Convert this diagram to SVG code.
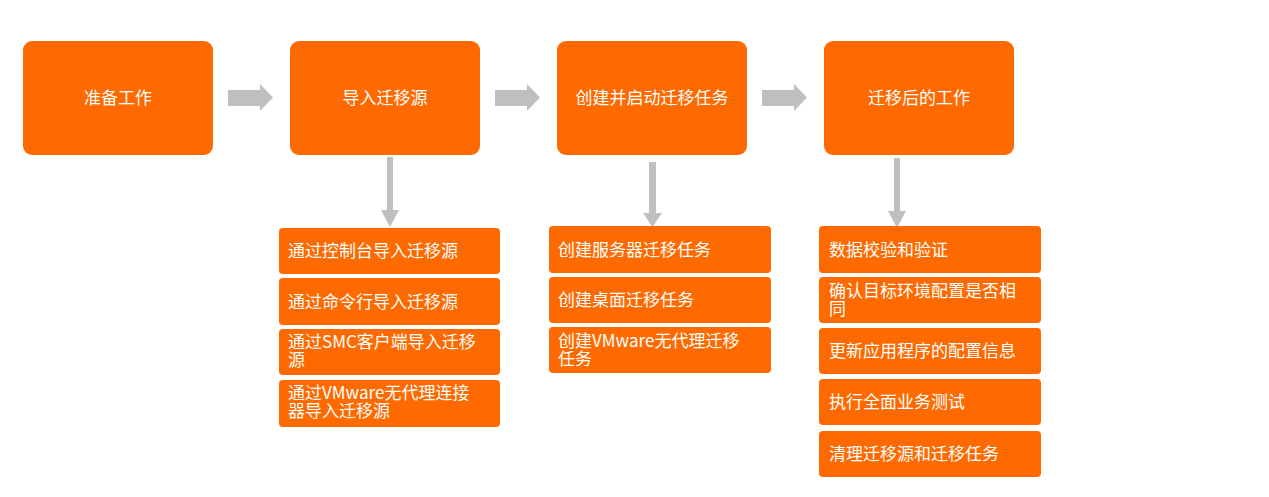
<svg xmlns="http://www.w3.org/2000/svg" width="1269" height="497" viewBox="0 0 1269 497">
<style>
.main{fill:#FF6A00}
.sub{fill:#FF6A00}
.t{font-family:"Noto Sans CJK SC","Noto Sans",sans-serif;font-size:17px;fill:#FFFFFF}
.c{text-anchor:middle}
.arr{fill:#BFBFBF}
</style>
<rect width="1269" height="497" fill="#FFFFFF"/>
<g id="connectors">
<polygon class="arr" points="228,90 260,90 260,84 273,97.5 260,111 260,106 228,106"/>
<polygon class="arr" points="495,90 527,90 527,84 540,97.5 527,111 527,106 495,106"/>
<polygon class="arr" points="762,90 794,90 794,84 807,97.5 794,111 794,106 762,106"/>
<polygon class="arr" points="387,157 393,157 393,210 399,210 390,227 381,210 387,210"/>
<polygon class="arr" points="649,162 656,162 656,213 662,213 652.5,227 643,213 649,213"/>
<polygon class="arr" points="894,158 900,158 900,211 906,211 897,228 888,211 894,211"/>
</g>
<g id="n1"><rect class="main" x="23" y="41" width="190" height="114" rx="9"/><text class="t c" x="118" y="104">准备工作</text></g>
<g id="n2"><rect class="main" x="290" y="41" width="190" height="114" rx="9"/><text class="t c" x="385" y="104">导入迁移源</text></g>
<g id="n3"><rect class="main" x="557" y="41" width="190" height="114" rx="9"/><text class="t c" x="652" y="104">创建并启动迁移任务</text></g>
<g id="n4"><rect class="main" x="824" y="41" width="190" height="114" rx="9"/><text class="t c" x="919" y="104">迁移后的工作</text></g>

<g id="s2a"><rect class="sub" x="279" y="228" width="221" height="46" rx="4"/><text class="t" x="288" y="257">通过控制台导入迁移源</text></g>
<g id="s2b"><rect class="sub" x="279" y="278" width="221" height="47" rx="4"/><text class="t" x="288" y="308">通过命令行导入迁移源</text></g>
<g id="s2c"><rect class="sub" x="279" y="329" width="221" height="46" rx="4"/><text class="t" x="288" y="348">通过SMC客户端导入迁移<tspan x="288" dy="18">源</tspan></text></g>
<g id="s2d"><rect class="sub" x="279" y="380" width="221" height="47" rx="4"/><text class="t" x="288" y="399">通过VMware无代理连接<tspan x="288" dy="18">器导入迁移源</tspan></text></g>

<g id="s3a"><rect class="sub" x="549" y="226" width="222" height="47" rx="4"/><text class="t" x="558" y="256">创建服务器迁移任务</text></g>
<g id="s3b"><rect class="sub" x="549" y="277" width="222" height="46" rx="4"/><text class="t" x="558" y="306">创建桌面迁移任务</text></g>
<g id="s3c"><rect class="sub" x="549" y="327" width="222" height="46" rx="4"/><text class="t" x="558" y="347">创建VMware无代理迁移<tspan x="558" dy="18">任务</tspan></text></g>

<g id="s4a"><rect class="sub" x="819" y="226" width="222" height="47" rx="4"/><text class="t" x="829" y="256">数据校验和验证</text></g>
<g id="s4b"><rect class="sub" x="819" y="277" width="222" height="46" rx="4"/><text class="t" x="829" y="297">确认目标环境配置是否相<tspan x="829" dy="18">同</tspan></text></g>
<g id="s4c"><rect class="sub" x="819" y="328" width="222" height="46" rx="4"/><text class="t" x="829" y="357">更新应用程序的配置信息</text></g>
<g id="s4d"><rect class="sub" x="819" y="379" width="222" height="46" rx="4"/><text class="t" x="829" y="408">执行全面业务测试</text></g>
<g id="s4e"><rect class="sub" x="819" y="431" width="222" height="46" rx="4"/><text class="t" x="829" y="460">清理迁移源和迁移任务</text></g>
</svg>
